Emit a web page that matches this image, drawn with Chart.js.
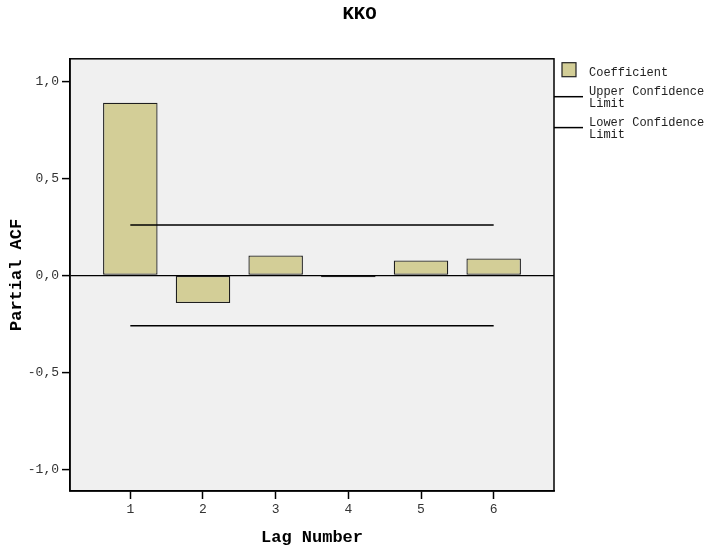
<!DOCTYPE html>
<html>
<head>
<meta charset="utf-8">
<title>KKO</title>
<script src="https://cdn.jsdelivr.net/npm/chart.js@4/dist/chart.umd.min.js"></script>
<style>
  body { margin: 0; background: #fff; }
  #wrap { width: 719px; height: 550px; position: relative; }
</style>
</head>
<body>
<div id="wrap"><canvas id="pacfChart"></canvas></div>
<script>
// data
const lags = [1, 2, 3, 4, 5, 6];
const coefficients = [0.889, -0.142, 0.102, -0.009, 0.077, 0.087];
const upperLimit = [0.259, 0.259, 0.259, 0.259, 0.259, 0.259];
const lowerLimit = [-0.259, -0.259, -0.259, -0.259, -0.259, -0.259];
const yTicks = [-1, -0.5, 0, 0.5, 1];
const yTickLabels = ["-1,0", "-0,5", "0,0", "0,5", "1,0"];

const FONT = "'Liberation Mono', 'Courier New', monospace";
const ctx = document.getElementById("pacfChart").getContext("2d");

// grey plot box with a frame all round
const plotBox = {
    id: "plotBox",
    beforeDraw(chart) {
        const a = chart.chartArea;
        const c = chart.ctx;
        c.save();
        c.fillStyle = "#f0f0f0";
        c.fillRect(a.left, a.top, a.right - a.left, a.bottom - a.top);
        c.restore();
    },
    afterDraw(chart) {
        const a = chart.chartArea;
        const c = chart.ctx;
        c.save();
        c.strokeStyle = "#000";
        c.lineWidth = 1.5;
        c.strokeRect(a.left, a.top, a.right - a.left, a.bottom - a.top);
        c.restore();
    }
};

// legend to the right, SPSS style (wrapped labels, line samples)
const sideLegend = {
    id: "sideLegend",
    afterDraw(chart) {
        const c = chart.ctx;
        const a = chart.chartArea;
        const lineH = 11.8;
        let y = 72.7;
        c.save();
        c.font = "12px " + FONT;
        c.textBaseline = "middle";
        c.fillStyle = "#222";
        chart.data.datasets.forEach(ds => {
            // wrap words to ~16 chars
            const lines = [];
            let cur = "";
            ds.label.split(" ").forEach(w => {
                if (cur && (cur + " " + w).length > 16) { lines.push(cur); cur = w; }
                else cur = cur ? cur + " " + w : w;
            });
            lines.push(cur);

            if (ds.type === "line") {
                const ly = y + (lines.length - 1) * lineH / 2 - 1;
                c.strokeStyle = ds.borderColor;
                c.lineWidth = 1.5;
                c.beginPath();
                c.moveTo(a.right, ly);
                c.lineTo(583, ly);
                c.stroke();
            } else {
                c.fillStyle = ds.backgroundColor;
                c.fillRect(562, y - 10, 14, 14);
                c.strokeStyle = "#222";
                c.lineWidth = 1.2;
                c.strokeRect(562, y - 10, 14, 14);
                c.fillStyle = "#222";
            }
            lines.forEach((t, i) => c.fillText(t, 589, y + i * lineH));
            y += lines.length * lineH + 7.3;
        });
        c.restore();
    }
};

new Chart(ctx, {
    type: "bar",
    data: {
        datasets: [
            {
                label: "Coefficient",
                data: lags.map((l, i) => ({ x: l, y: coefficients[i] })),
                backgroundColor: "#d3ce97",
                borderColor: "#1e1e1e",
                borderWidth: 1.3,
                borderSkipped: false,
                barPercentage: 0.75,
                categoryPercentage: 1,
                order: 2
            },
            {
                type: "line",
                label: "Upper Confidence Limit",
                data: lags.map((l, i) => ({ x: l, y: upperLimit[i] })),
                borderColor: "#000",
                borderWidth: 1.5,
                pointRadius: 0,
                fill: false,
                order: 1
            },
            {
                type: "line",
                label: "Lower Confidence Limit",
                data: lags.map((l, i) => ({ x: l, y: lowerLimit[i] })),
                borderColor: "#000",
                borderWidth: 1.5,
                pointRadius: 0,
                fill: false,
                order: 1
            }
        ]
    },
    options: {
        responsive: true,
        maintainAspectRatio: false,
        animation: false,
        layout: { padding: 0 },
        plugins: {
            legend: { display: false },
            tooltip: { enabled: false },
            title: {
                display: true,
                text: "KKO",
                color: "#000",
                font: { family: FONT, size: 19, weight: "bold" },
                padding: { top: 2.5, bottom: 33.5 }
            }
        },
        scales: {
            x: {
                type: "linear",
                offset: false,
                min: 0.17,
                max: 6.83,
                afterBuildTicks: s => { s.ticks = lags.map(v => ({ value: v })); },
                afterFit: s => { s.height = 59; },
                ticks: {
                    color: "#333",
                    font: { family: FONT, size: 13 },
                    padding: 3,
                    callback: v => String(v)
                },
                grid: {
                    offset: false,
                    drawOnChartArea: false,
                    tickLength: 8,
                    tickColor: "#000",
                    tickWidth: 1.5
                },
                border: { color: "#000", width: 1.5 },
                title: {
                    display: true,
                    text: "Lag Number",
                    color: "#000",
                    font: { family: FONT, size: 17, weight: "bold" },
                    padding: { top: 0, bottom: 2 }
                }
            },
            y: {
                min: -1.11,
                max: 1.115,
                afterBuildTicks: s => { s.ticks = yTicks.map(v => ({ value: v })); },
                afterFit: s => { s.width = 70; },
                ticks: {
                    color: "#333",
                    font: { family: FONT, size: 13 },
                    padding: 3,
                    callback: (v, i) => yTickLabels[i]
                },
                grid: {
                    color: c => (c.tick && c.tick.value === 0 ? "#000" : "rgba(0,0,0,0)"),
                    lineWidth: 1.2,
                    tickLength: 8,
                    tickColor: "#000",
                    tickWidth: 1.5
                },
                border: { color: "#000", width: 1.5 },
                title: {
                    display: true,
                    text: "Partial ACF",
                    color: "#000",
                    font: { family: FONT, size: 17, weight: "bold" },
                    padding: { top: 7, bottom: 0 }
                }
            },
            // empty right-hand axis, only to reserve room for the legend
            legendSpace: {
                type: "linear",
                position: "right",
                display: true,
                afterFit: s => { s.width = 165; },
                ticks: { display: false },
                grid: { display: false, drawTicks: false },
                border: { display: false }
            }
        }
    },
    plugins: [plotBox, sideLegend]
});
</script>
</body>
</html>
